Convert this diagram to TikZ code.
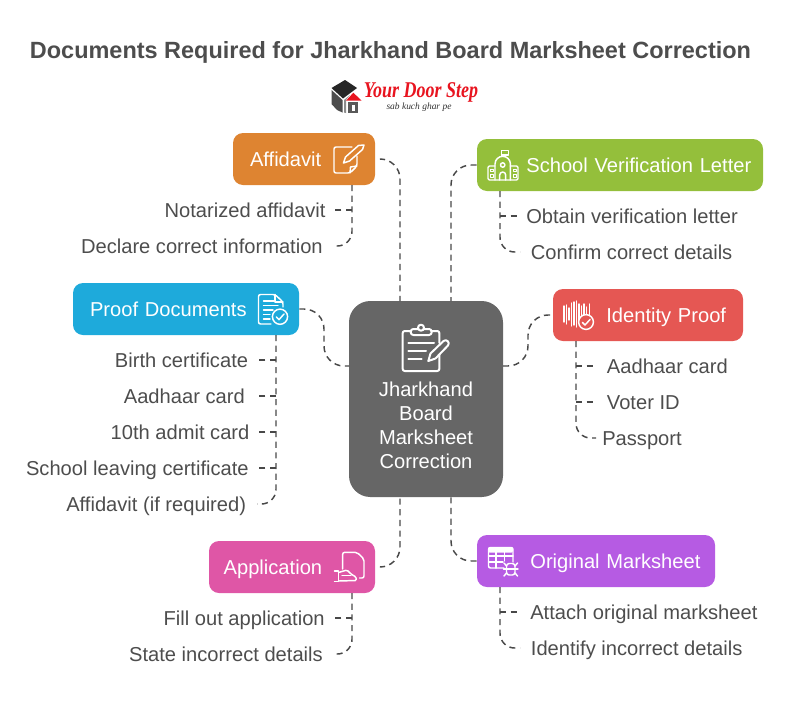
\documentclass[tikz,border=0pt]{standalone}
\usepackage{graphicx}
\usepackage{fontspec}
\setmainfont{Liberation Sans}
\newfontfamily\logofont{Liberation Serif}
\definecolor{inkgray}{HTML}{4D4D4D}
\definecolor{linegray}{HTML}{484848}
\definecolor{maingray}{HTML}{666666}
\definecolor{affcolor}{HTML}{DE8431}
\definecolor{schoolcolor}{HTML}{94BF3B}
\definecolor{identcolor}{HTML}{E55753}
\definecolor{proofcolor}{HTML}{1EAADB}
\definecolor{applcolor}{HTML}{DF56A6}
\definecolor{markcolor}{HTML}{B65BE3}
\definecolor{logored}{HTML}{E8141F}
\tikzset{
  box/.style={rounded corners=7.5pt,inner xsep=0pt,inner ysep=0pt,minimum height=39pt,text height=13pt,text depth=2pt,align=left,text=white,font=\fontsize{15.1}{18}\selectfont},
  item/.style={text=inkgray,inner ysep=0pt,text height=13pt,text depth=2pt,font=\fontsize{15.1}{18}\selectfont},
  link/.style={draw=linegray,line width=1.1pt,dash pattern=on 4.6pt off 3.4pt,rounded corners=15pt},
  sublink/.style={draw=linegray,line width=1.1pt,dash pattern=on 4.6pt off 3.4pt,rounded corners=11pt},
  icon/.style={draw=white,line width=1.1pt,line cap=round,line join=round},
}
\begin{document}
\begin{tikzpicture}[x=0.75pt,y=-0.75pt]
  \useasboundingbox (0,0) rectangle (788,714);
  \node[text=inkgray,font=\fontsize{17.6}{20}\selectfont\bfseries] (title) at (390.5,52) {Documents Required for Jharkhand Board Marksheet Correction};

  % logo
  \fill[black!85] (331.5,88) -- (345,80) -- (357,88) -- (343,98.5) -- cycle;
  \fill[black!70] (331.5,90) -- (342.5,100) -- (342.5,112.5) -- (337,110) -- (331.5,104) -- cycle;
  \fill[black!45] (344,100) -- (350,95) -- (346,100) -- (346,113) -- (344,112.5) -- cycle;
  \fill[logored] (353.3,92.7) -- (361.7,100.7) -- (346,100.7) -- cycle;
  \fill[black!65] (348.3,101.7) rectangle (358.3,112.7);
  \fill[white] (351.7,104.5) rectangle (355,110.5);
  \node[text=logored,inner sep=0pt,font=\logofont\itshape\bfseries\fontsize{13.5}{16}\selectfont] (logotext) at (421,92) {\scalebox{1}[1.25]{Your Door Step}};
  \node[text=black!80,inner sep=0pt,font=\logofont\itshape\fontsize{7.1}{8}\selectfont] (logosub) at (419,107) {sab kuch ghar pe};

  % boxes
  \node[box,fill=maingray,rounded corners=16pt,minimum width=115.5pt,minimum height=147pt,align=center,text height=,text depth=] (main) at (426,399) {\rule{0pt}{50pt}Jharkhand\\Board\\Marksheet\\Correction};
  \node[box,fill=affcolor,text width=106.5pt] (affidavit) at (304,159) {\hspace*{12.75pt}Affidavit};
  \node[box,fill=schoolcolor,text width=214.5pt] (school) at (620,165) {\hspace*{37pt}School Verification Letter};
  \node[box,fill=identcolor,text width=142.5pt] (identity) at (648,315) {\hspace*{40pt}Identity Proof};
  \node[box,fill=proofcolor,text width=169.5pt] (proof) at (186,309) {\hspace*{12.75pt}Proof Documents};
  \node[box,fill=applcolor,text width=124.5pt] (application) at (292,567) {\hspace*{11pt}Application};
  \node[box,fill=markcolor,text width=178.5pt] (marksheet) at (596,561) {\hspace*{40pt}Original Marksheet};

  % main connectors
  \coordinate (maintl) at (400,301);
  \coordinate (maintr) at (451,301);
  \coordinate (mainbl) at (400,497);
  \coordinate (mainbr) at (451,497);
  \coordinate (mainl) at (349,366);
  \coordinate (mainr) at (503,366);
  \coordinate (proofbend) at (324,309);
  \coordinate (identbend) at (528,315);
  \coordinate (affend) at (381,159);
  \coordinate (applend) at (381,567);
  \draw[link] (affend) -| (maintl);
  \draw[link] (school.west) -| (maintr);
  \draw[link] (applend) -| (mainbl);
  \draw[link] (marksheet.west) -| (mainbr);
  \draw[link] (proof.east) -- (proofbend) |- (mainl);
  \draw[link] (mainr) -| (identbend) -- (identity.west);

  % affidavit list
  \coordinate (afftop) at (352,185);
  \node[item,anchor=east,inner xsep=5.5pt] (notarized) at (333,210) {Notarized affidavit};
  \node[item,anchor=east,inner xsep=7.5pt] (declare) at (333,246) {Declare correct information};
  \draw[sublink] (afftop) |- (declare.east);
  \draw[sublink] (afftop |- notarized) -- (notarized.east);

  % school list
  \coordinate (schooltop) at (500,191);
  \node[item,anchor=west,inner xsep=4.5pt] (obtain) at (520,216) {Obtain verification letter};
  \node[item,anchor=west,inner xsep=8pt] (confirm) at (520,252) {Confirm correct details};
  \draw[sublink] (schooltop) |- (confirm.west);
  \draw[sublink] (schooltop |- obtain) -- (obtain.west);

  % proof list
  \coordinate (prooftop) at (276,335);
  \node[item,anchor=east,inner xsep=6.5pt] (birth) at (257,360) {Birth certificate};
  \node[item,anchor=east,inner xsep=9pt] (aadhaar) at (257,396) {Aadhaar card};
  \node[item,anchor=east,inner xsep=5.5pt] (admit) at (257,432) {10th admit card};
  \node[item,anchor=east,inner xsep=6pt] (leaving) at (257,468) {School leaving certificate};
  \node[item,anchor=east,inner xsep=8pt] (ifreq) at (257,504) {Affidavit (if required)};
  \draw[sublink] (prooftop) |- (ifreq.east);
  \draw[sublink] (prooftop |- birth) -- (birth.east);
  \draw[sublink] (prooftop |- aadhaar) -- (aadhaar.east);
  \draw[sublink] (prooftop |- admit) -- (admit.east);
  \draw[sublink] (prooftop |- leaving) -- (leaving.east);

  % identity list
  \coordinate (identtop) at (576,341);
  \node[item,anchor=west,inner xsep=8pt] (idaadhaar) at (596,366) {Aadhaar card};
  \node[item,anchor=west,inner xsep=8pt] (voter) at (596,402) {Voter ID};
  \node[item,anchor=west,inner xsep=4.5pt] (passport) at (596,438) {Passport};
  \draw[sublink] (identtop) |- (passport.west);
  \draw[sublink] (identtop |- idaadhaar) -- (idaadhaar.west);
  \draw[sublink] (identtop |- voter) -- (voter.west);

  % application list
  \coordinate (appltop) at (352,593);
  \node[item,anchor=east,inner xsep=6pt] (fill) at (333,618) {Fill out application};
  \node[item,anchor=east,inner xsep=7.5pt] (state) at (333,654) {State incorrect details};
  \draw[sublink] (appltop) |- (state.east);
  \draw[sublink] (appltop |- fill) -- (fill.east);

  % marksheet list
  \coordinate (marktop) at (500,587);
  \node[item,anchor=west,inner xsep=7.5pt] (attach) at (520,612) {Attach original marksheet};
  \node[item,anchor=west,inner xsep=8pt] (identify) at (520,648) {Identify incorrect details};
  \draw[sublink] (marktop) |- (identify.west);
  \draw[sublink] (marktop |- attach) -- (attach.west);

  % main icon
  \draw[icon,line width=1.5pt,rounded corners=1.5pt] (411,331) -- (402.7,331) -- (402.7,371) -- (439.3,371) -- (439.3,354);
  \draw[icon,line width=1.5pt,rounded corners=1.5pt] (431,331) -- (439.3,331) -- (439.3,343);
  \draw[icon,line width=1.5pt,rounded corners=2pt] (410.7,329) rectangle (431.7,335);
  \draw[icon,line width=1.5pt,fill=maingray] (421,327.7) circle (3);
  \draw[icon,line width=1.5pt] (408.3,342.7) -- (434,342.7);
  \draw[icon,line width=1.5pt] (408.3,350.7) -- (426,350.7);
  \draw[icon,line width=1.5pt] (408.3,359) -- (421.7,359);
  \draw[icon,line width=1.5pt,fill=maingray] (428.3,361) -- (430.5,353.5) -- (443.5,341) .. controls (446.5,338.5) and (450.5,342.5) .. (448,345.5) -- (435.5,358.5) -- cycle;

  % affidavit icon
  \draw[icon,rounded corners=1.5pt] (352,147) -- (334,147) -- (334,173) -- (350,173) -- (357,166) -- (357,156);
  \draw[icon] (350,173) -- (350.5,167) -- (357,166);
  \draw[icon,fill=affcolor] (343.5,163) -- (345.5,157) -- (358.5,145.5) -- (364,145) -- (362.5,149.5) -- (349.5,161) -- cycle;

  % school icon
  \draw[icon] (501.7,156) -- (501.7,150.5) -- (508.3,150.5) -- (508.3,155) -- (501.7,155);
  \draw[icon] (495,180) -- (495,164) arc (180:360:7.7) -- (510.4,180);
  \draw[icon] (502.7,165) circle (2.2);
  \draw[icon,rounded corners=1pt] (495,166) -- (488,166) -- (488,180) -- (518,180) -- (518,166) -- (510.4,166);
  \draw[icon] (499.7,180) -- (499.7,175) arc (180:360:3) -- (505.7,180);
  \draw[icon,line width=0.7pt] (490,169) rectangle (493,171.5);
  \draw[icon,line width=0.7pt] (490,174.5) rectangle (493,177);
  \draw[icon,line width=0.7pt] (513,169) rectangle (516,171.5);
  \draw[icon,line width=0.7pt] (513,174.5) rectangle (516,177);

  % identity icon
  \draw[icon] (564,306) -- (564,322);
  \draw[icon] (566.5,305) -- (566.5,324);
  \draw[icon] (569,308) -- (569,320);
  \draw[icon] (571.5,303) -- (571.5,326);
  \draw[icon] (574,302) -- (574,325);
  \draw[icon] (576.5,301) -- (576.5,327);
  \draw[icon] (579,304) -- (579,323);
  \draw[icon] (581.5,306) -- (581.5,320);
  \draw[icon] (584,304) -- (584,317);
  \draw[icon] (586.5,307) -- (586.5,318);
  \draw[icon] (589.5,304) -- (589.5,320);
  \draw[icon,fill=identcolor] (586,322) circle (7.4);
  \draw[icon] (582.3,322.3) -- (585,325) -- (590,319.5);

  % proof icon
  \draw[icon,rounded corners=1.5pt] (271,324) -- (258.5,324) -- (258.5,294.5) -- (275,294.5) -- (283,302) -- (283,307);
  \draw[icon] (275,294.5) -- (275,302) -- (283,302);
  \draw[icon] (263.5,301) -- (274,301);
  \draw[icon] (263.5,305.5) -- (278,305.5);
  \draw[icon] (263.5,310) -- (273,310);
  \draw[icon] (263.5,314.5) -- (270,314.5);
  \draw[icon] (263.5,319) -- (270,319);
  \draw[icon,fill=proofcolor] (280,316.7) circle (7.6);
  \draw[icon] (276.3,317) -- (279,319.7) -- (284,314);

  % application icon
  \draw[icon,rounded corners=1.5pt] (342.7,569) -- (342.7,552.3) -- (357,552.3) -- (364,559) -- (364,578) -- (359.5,578);
  \draw[icon,rounded corners=1pt] (338.5,572.5) -- (347,570) -- (351,574) -- (356,577) -- (356.5,580.5) -- (338.5,581);
  \draw[icon] (334.5,571) -- (338.5,571) -- (338.5,581.5) -- (334.5,581.5);
  \draw[icon] (342,575.5) -- (351,575.5);

  % marksheet icon
  \fill[white,rounded corners=1pt] (488,547) rectangle (513,552.5);
  \draw[icon,rounded corners=1.5pt] (504,568) -- (488.5,568) -- (488.5,547.5) -- (513,547.5) -- (513,562);
  \draw[icon] (488.5,556) -- (513,556);
  \draw[icon] (488.5,562) -- (503,562);
  \draw[icon] (496,552) -- (496,568);
  \draw[icon] (504.5,552) -- (504.5,561);
  \draw[icon,fill=markcolor,rounded corners=2pt] (506.5,563.5) rectangle (515,575);
  \draw[icon] (506.5,569) -- (515,569);
  \draw[icon] (506.5,566) -- (504,563);
  \draw[icon] (515,566) -- (517.5,563);
  \draw[icon] (506.5,569) -- (503.5,569);
  \draw[icon] (515,569) -- (518,569);
  \draw[icon] (506.5,573) -- (504,576);
  \draw[icon] (515,573) -- (517.5,576);
\end{tikzpicture}
\end{document}
